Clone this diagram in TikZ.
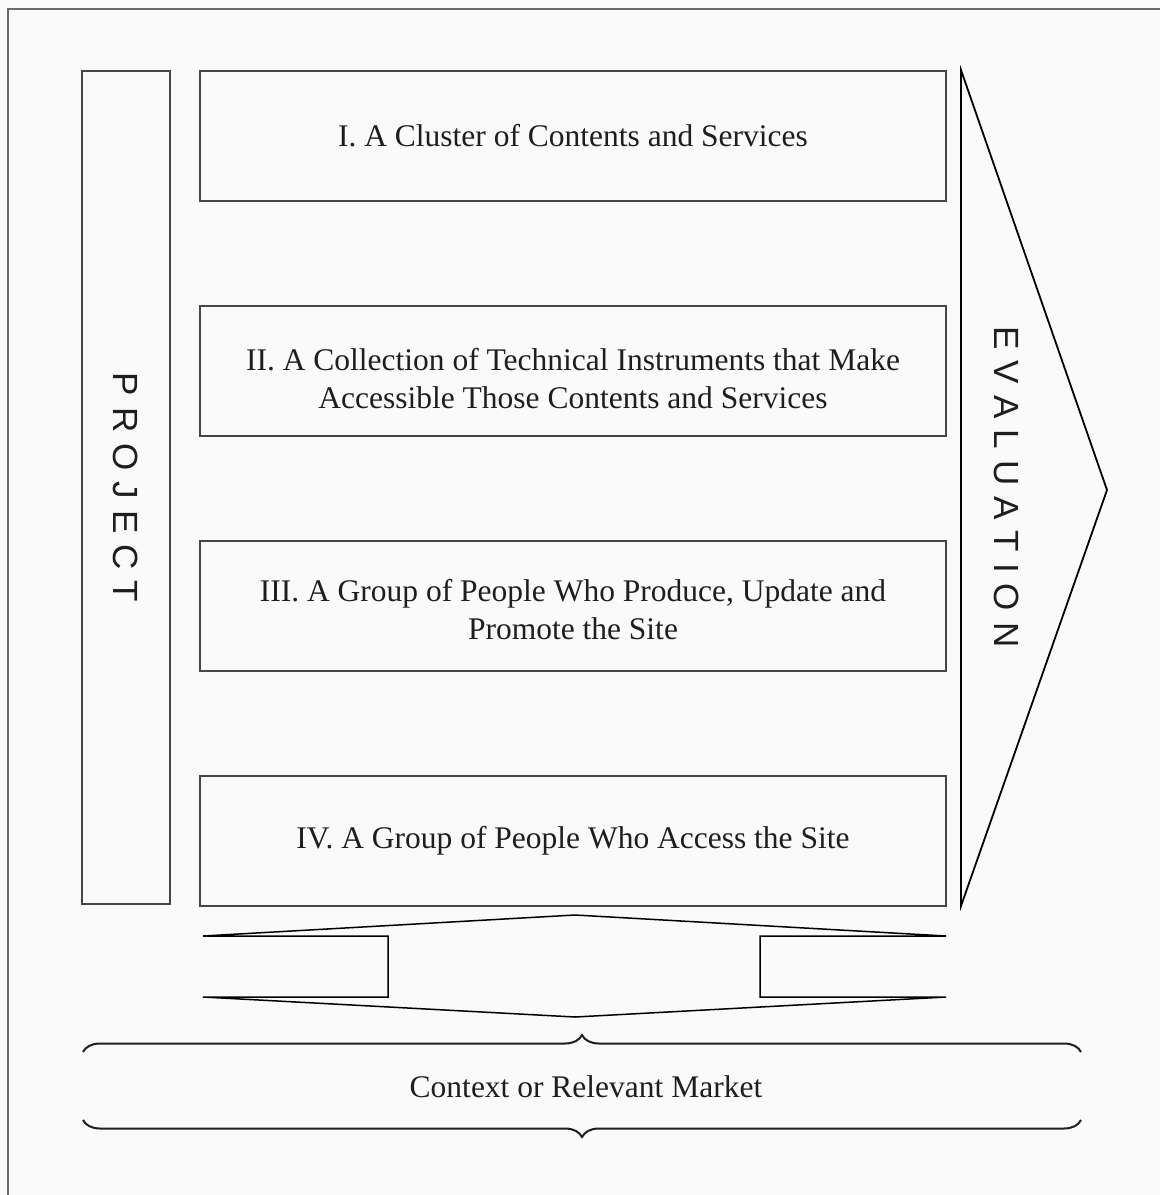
\documentclass[tikz,border=0pt]{standalone}
\usepackage{fontspec}
\setmainfont{Liberation Serif}
\newfontfamily\labelsans{Liberation Sans}
\usetikzlibrary{decorations.pathreplacing}
\definecolor{paper}{RGB}{250,250,250}
\definecolor{edge}{RGB}{70,70,70}
\definecolor{ink}{RGB}{30,30,30}
\newcommand\lsp{\kern 11pt}
\begin{document}
\begin{tikzpicture}[x=1pt,y=-1pt,
  layerbox/.style={draw=edge, line width=1.3pt, minimum width=746pt, minimum height=130pt,
    inner sep=0pt},
  layertext/.style={align=center, text=ink, font=\fontsize{31.5}{38}\selectfont},
  sidebox/.style={draw=edge, line width=1.3pt, minimum width=88pt, minimum height=833pt, inner sep=0pt},
  sidelabel/.style={rotate=-90, text=ink, font=\labelsans\fontsize{35}{35}\selectfont},
  outline/.style={draw=black, line width=1.8pt, line join=miter},
  bracket/.style={draw=ink, line width=2pt, decorate, decoration={brace, amplitude=17pt, aspect=0.5}}]
  \useasboundingbox[fill=paper] (0,0) rectangle (1160,1195);
  % frame
  \draw[edge!80, line width=2pt] (8,1195) -- (8,9) -- (1160,9);

  % project bar
  \node[sidebox] (proj) at (126,487.5) {};
  \node[sidelabel] (projtxt) at (proj.center) {P\lsp R\lsp O\lsp J\lsp E\lsp C\lsp T};

  % the four layers
  \node[layerbox, label={[layertext]center:I. A Cluster of Contents and Services}] (l1) at (573,136) {};
  \node[layerbox, label={[layertext, yshift=-8pt]center:{II. A Collection of Technical Instruments that Make\\Accessible Those Contents and Services}}] (l2) at (573,371) {};
  \node[layerbox, label={[layertext, yshift=-4pt]center:{III. A Group of People Who Produce, Update and\\Promote the Site}}] (l3) at (573,606) {};
  \node[layerbox, label={[layertext]center:IV. A Group of People Who Access the Site}] (l4) at (573,841) {};

  % evaluation chevron
  \coordinate (et) at (961,70);
  \coordinate (ea) at (1107,490);
  \coordinate (eb) at (961,906);
  \draw[outline] (et) -- (ea) -- (eb) -- cycle;
  \node[sidelabel] (evtxt) at (1007,487) {E\lsp V\lsp A\lsp L\lsp U\lsp A\lsp T\lsp I\lsp O\lsp N};

  % two-way arrow below the layers
  \draw[outline, line width=1.5pt] (575,915) -- (946,936) -- (760,936) -- (760,997) -- (946,997)
    -- (575,1017) -- (203,997) -- (388,997) -- (388,936) -- (203,936) -- cycle;

  % context braces
  \coordinate (tl) at (83,1052);
  \coordinate (tr) at (1081,1052);
  \coordinate (bl) at (83,1120);
  \coordinate (br) at (1081,1120);
  \draw[bracket] (tl) -- (tr);
  \draw[bracket] (br) -- (bl);
  \node[layertext] (ctx) at (586,1087) {Context or Relevant Market};
\end{tikzpicture}
\end{document}
